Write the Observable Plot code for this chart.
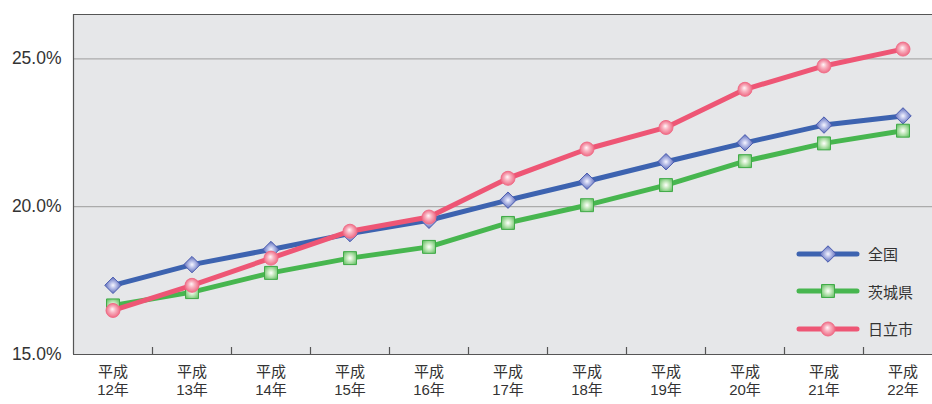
<!DOCTYPE html>
<html><head><meta charset="utf-8">
<script src="https://cdn.jsdelivr.net/npm/d3@7"></script>
<script src="https://cdn.jsdelivr.net/npm/@observablehq/plot@0.6"></script>
<style>
body{margin:0;background:#fff;}
#wrap{position:relative;width:932px;height:404px;font-family:"Liberation Sans","Noto Sans CJK JP",sans-serif;}
#legend{position:absolute;left:796px;top:235px;}
.item{display:flex;align-items:center;height:37.5px;font-size:15px;color:#333;}
.item svg{display:block;margin-right:8px;}
</style></head><body><div id="wrap"><div id="legend"></div></div>
<script>
// ---- data ----
const era = "平成";
const years = ["12", "13", "14", "15", "16", "17", "18", "19", "20", "21", "22"];
const seriesNames = ["全国", "茨城県", "日立市"];
const zenkoku = [17.34, 18.04, 18.55, 19.09, 19.54, 20.22, 20.86, 21.52, 22.16, 22.76, 23.07];
const ibaraki = [16.66, 17.11, 17.76, 18.26, 18.64, 19.45, 20.05, 20.73, 21.54, 22.14, 22.57];
const hitachi = [16.49, 17.34, 18.26, 19.17, 19.65, 20.96, 21.95, 22.68, 23.97, 24.76, 25.33];
const yTicks = [15, 20, 25];
const yMax = 26.5;

const seriesValues = [zenkoku, ibaraki, hitachi];
const colors = ["#3d63b0", "#47b64f", "#ee5675"];
const symbols = ["diamond2", "square", "circle"];
const radii = [7.4, 7.3, 7.0];
const fills = ["url(#gBlue)", "url(#gGreen)", "url(#gRed)"];
const strokes = ["#4a5cb0", "#3faa47", "#f06e88"];

const rows = seriesNames.map((s, k) => seriesValues[k].map((v, i) => ({series: s, i, value: v})));
const idx = d3.range(years.length);
const boundaries = d3.range(1, years.length).map(i => i - 0.5);
const font = '"Liberation Sans","Noto Sans CJK JP",sans-serif';

const seriesMarks = rows.flatMap((data, k) => [
  Plot.line(data, {x: "i", y: "value", stroke: colors[k], strokeWidth: 5, strokeLinejoin: "round", strokeLinecap: "round"}),
  Plot.dot(data, {x: "i", y: "value", symbol: symbols[k], r: radii[k], fill: fills[k], stroke: strokes[k], strokeWidth: 1})
]);

const chart = Plot.plot({
  width: 932, height: 404,
  marginLeft: 73, marginRight: 0, marginTop: 14, marginBottom: 50,
  style: {fontFamily: font, color: "#333", background: "transparent", overflow: "visible"},
  x: {type: "linear", domain: [-0.5, years.length - 0.5], range: [73, 942], label: null, axis: null},
  y: {domain: [15, yMax], label: null},
  marks: [
    Plot.frame({fill: "#e6e7e9", stroke: null}),
    Plot.ruleY(yTicks.slice(1), {stroke: "#ababab", strokeWidth: 1.2}),
    Plot.ruleY([yMax], {stroke: "#555", strokeWidth: 1.2}),
    Plot.ruleY([15], {stroke: "#555", strokeWidth: 1.2}),
    Plot.ruleX([-0.5], {stroke: "#555", strokeWidth: 1.2}),
    Plot.ruleX(boundaries, {y1: 15, y2: 15, insetTop: -7, stroke: "#555", strokeWidth: 1.2}),
    Plot.axisY(yTicks, {label: null, tickSize: 0, tickPadding: 12, fontSize: 17.5, tickFormat: d => d.toFixed(1) + "%"}),
    Plot.text(idx, {x: d => d, frameAnchor: "bottom", dy: 22, text: () => era, fontSize: 15, fill: "#333"}),
    Plot.text(idx, {x: d => d, frameAnchor: "bottom", dy: 40.5, text: i => years[i] + "年", fontSize: 15, fill: "#333"}),
    ...seriesMarks
  ]
});

d3.select(chart).insert("defs", ":first-child").html(`
  <radialGradient id="gBlue" cx="50%" cy="50%" r="55%">
    <stop offset="0" stop-color="#f6f6ff"/>
    <stop offset="0.35" stop-color="#b9bfe8"/>
    <stop offset="1" stop-color="#4b5db1"/>
  </radialGradient>
  <radialGradient id="gGreen" cx="50%" cy="50%" r="60%">
    <stop offset="0" stop-color="#ffffff"/>
    <stop offset="0.3" stop-color="#d6efcf"/>
    <stop offset="1" stop-color="#6cc46a"/>
  </radialGradient>
  <radialGradient id="gRed" cx="50%" cy="50%" fx="45%" fy="40%" r="55%">
    <stop offset="0" stop-color="#fff6f8"/>
    <stop offset="0.4" stop-color="#f8b2c0"/>
    <stop offset="1" stop-color="#ee617d"/>
  </radialGradient>`);

document.getElementById("wrap").prepend(chart);

// legend (HTML overlay)
const legend = d3.select("#legend");
const symGen = {diamond2: d3.symbolDiamond2, square: d3.symbolSquare, circle: d3.symbolCircle};
seriesNames.forEach((name, k) => {
  const item = legend.append("div").attr("class", "item");
  const s = item.append("svg").attr("width", 64).attr("height", 22);
  s.append("line").attr("x1", 3).attr("x2", 61).attr("y1", 11).attr("y2", 11)
    .attr("stroke", colors[k]).attr("stroke-width", 5).attr("stroke-linecap", "round");
  s.append("path").attr("transform", "translate(32,11)")
    .attr("d", d3.symbol(symGen[symbols[k]], Math.PI * radii[k] * radii[k])())
    .attr("fill", fills[k]).attr("stroke", strokes[k]).attr("stroke-width", 1);
  item.append("span").text(name);
});
</script>
</body></html>
